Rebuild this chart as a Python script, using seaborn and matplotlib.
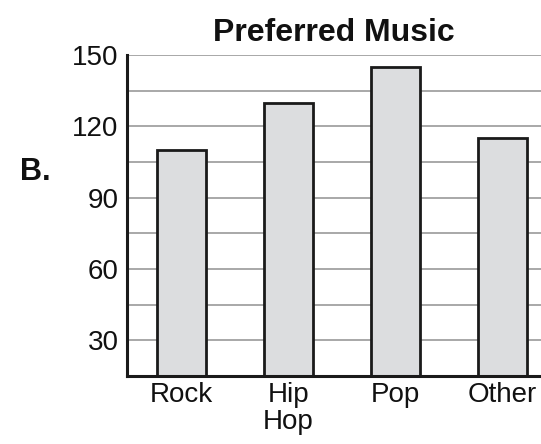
import matplotlib
matplotlib.use('Agg')
import matplotlib.pyplot as plt
import seaborn as sns
import pandas as pd
import numpy as np

genres = ['Rock', 'Hip\nHop', 'Pop', 'Other']
votes = [110, 130, 145, 115]

df = pd.DataFrame({'Genre': genres, 'Votes': votes})

sns.set_style('white')
plt.rcParams['font.family'] = ['Liberation Sans', 'DejaVu Sans']

fig = plt.figure(figsize=(5.41, 4.44), dpi=100)
ax = fig.add_axes([127 / 541, 1 - 376 / 444, (541 - 127) / 541, (376 - 55) / 444])

# grid every 15
for y in np.arange(30, 151, 15):
    ax.axhline(y, color='#9a9a9a', lw=1.2, zorder=0)

sns.barplot(data=df, x='Genre', y='Votes', color='#dcdddf', width=0.45,
            edgecolor='#1a1a1a', linewidth=2, saturation=1, ax=ax, zorder=2)

ax.set_ylim(15, 150)
ax.set_xlim(-0.51, 3.36)
ax.set_yticks([30, 60, 90, 120, 150])
ax.tick_params(axis='y', length=0, labelsize=20, colors='#111111', pad=6)
ax.tick_params(axis='x', length=0, labelsize=20, colors='#111111', pad=4)
for lbl in ax.get_xticklabels():
    lbl.set_linespacing(1.05)
ax.set_xlabel('')
ax.set_ylabel('')
for s in ['top', 'right']:
    ax.spines[s].set_visible(False)
for s in ['left', 'bottom']:
    ax.spines[s].set_color('#1a1a1a')
    ax.spines[s].set_linewidth(2.2)
    ax.spines[s].set_zorder(3)

ax.set_title('Preferred Music', fontsize=23, fontweight='bold', pad=10, color='#111111')
fig.text(20 / 541, 1 - 172 / 444, 'B.', fontsize=22, fontweight='bold', va='center', color='#111111')

fig.savefig('out.png', dpi=100)
